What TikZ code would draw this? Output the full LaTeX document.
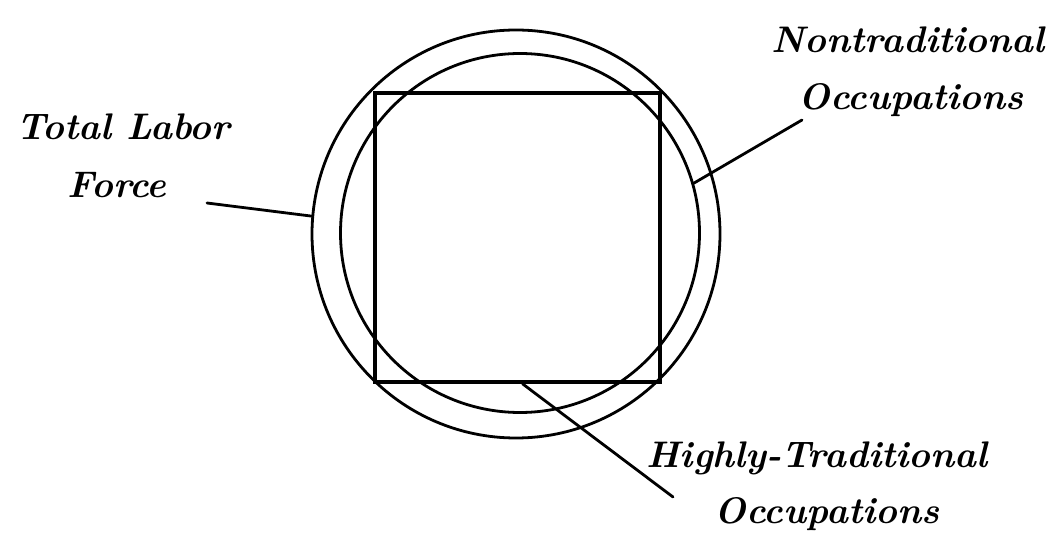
\documentclass[tikz,border=0pt]{standalone}
\usepackage{tikz}
\usetikzlibrary{positioning,calc}

\begin{document}
\begin{tikzpicture}[
    x=1pt,y=1pt,
    ring/.style={draw=black,circle,line width=2.8pt,inner sep=0pt},
    box/.style={draw=black,rectangle,line width=3.6pt,inner sep=0pt},
    label/.style={anchor=base,inner sep=0pt,font=\fontsize{37}{44}\selectfont\bfseries\itshape},
    lead/.style={draw=black,line width=2.8pt,line cap=round}
  ]
    \useasboundingbox (0,0) rectangle (1049,549);

    \node[ring,minimum size=408pt] (outer) at (516,315) {};
    \node[ring,minimum size=359pt] (inner) at (520,316) {};
    \node[box,minimum width=285pt,minimum height=289pt] (sq) at (517.5,311.5) {};

    \node[label] (total) at (123,409) {Total Labor};
    \node[label] (force) at (117,351) {Force};
    \node[label] (nontrad) at (908,496) {Nontraditional};
    \node[label] (nonocc) at (911,439) {Occupations};
    \node[label] (hightrad) at (817,82) {Highly-Traditional};
    \node[label] (highocc) at (827,26) {Occupations};

    % free ends of the label lines
    \coordinate (forceend) at (207,346);
    \coordinate (nonend) at (802,429);
    \coordinate (highend) at (673,52);

    \draw[lead] (forceend) -- (outer.175);
    \draw[lead] (nonend) -- (inner.16);
    \draw[lead] ([xshift=5pt]sq.south) -- (highend);
  \end{tikzpicture}
\end{document}
